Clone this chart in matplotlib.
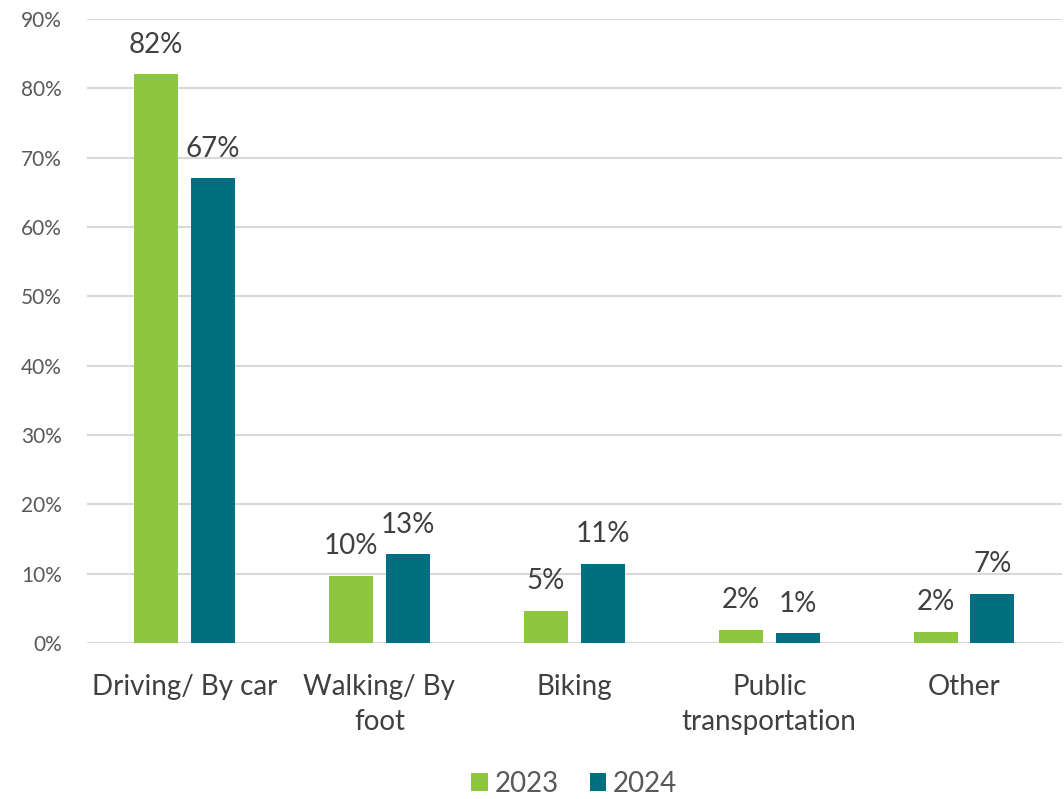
import numpy as np
import matplotlib.pyplot as plt
from matplotlib.ticker import PercentFormatter

categories = ['Driving/ By car', 'Walking/ By\nfoot', 'Biking', 'Public\ntransportation', 'Other']
values_2023 = [82, 9.7, 4.6, 1.9, 1.6]
values_2024 = [67, 12.8, 11.4, 1.4, 7.1]
labels_2023 = ['82%', '10%', '5%', '2%', '2%']
labels_2024 = ['67%', '13%', '11%', '1%', '7%']

green = '#8DC63F'
teal = '#006F80'

plt.rcParams['font.family'] = ['Lato', 'DejaVu Sans']

fig = plt.figure(figsize=(10.64, 7.99), dpi=100)
ax = fig.add_axes([0.0818, 0.1952, 0.916, 0.781])

x = np.arange(len(categories))
w = 0.226
off = 0.145
b1 = ax.bar(x - off, values_2023, w, color=green, label='2023', zorder=3)
b2 = ax.bar(x + off, values_2024, w, color=teal, label='2024', zorder=3)

for bars, labels in [(b1, labels_2023), (b2, labels_2024)]:
    for rect, lab in zip(bars, labels):
        ax.annotate(lab, (rect.get_x() + rect.get_width() / 2, rect.get_height()),
                    xytext=(0, 12), textcoords='offset points', ha='center', va='bottom',
                    fontsize=20, color='#404040')

ax.set_xlim(-0.5, len(categories) - 0.5)
ax.set_ylim(0, 90)
ax.set_yticks(range(0, 91, 10))
ax.yaxis.set_major_formatter(PercentFormatter(decimals=0))
ax.grid(axis='y', color='#D9D9D9', linewidth=1.5, zorder=0)
for s in ax.spines.values():
    s.set_visible(False)
ax.tick_params(axis='y', length=0, labelsize=15, labelcolor='#595959', pad=18)
ax.set_xticks(x)
ax.set_xticklabels(categories, fontsize=20, color='#404040', linespacing=1.45)
ax.tick_params(axis='x', length=0, pad=22)

ax.legend(loc='upper center', bbox_to_anchor=(0.5, -0.165), ncol=2, frameon=False,
          fontsize=20, labelcolor='#595959', handlelength=0.6, handleheight=0.6,
          handletextpad=0.25, columnspacing=1.1)

fig.savefig('out.png', dpi=100)
